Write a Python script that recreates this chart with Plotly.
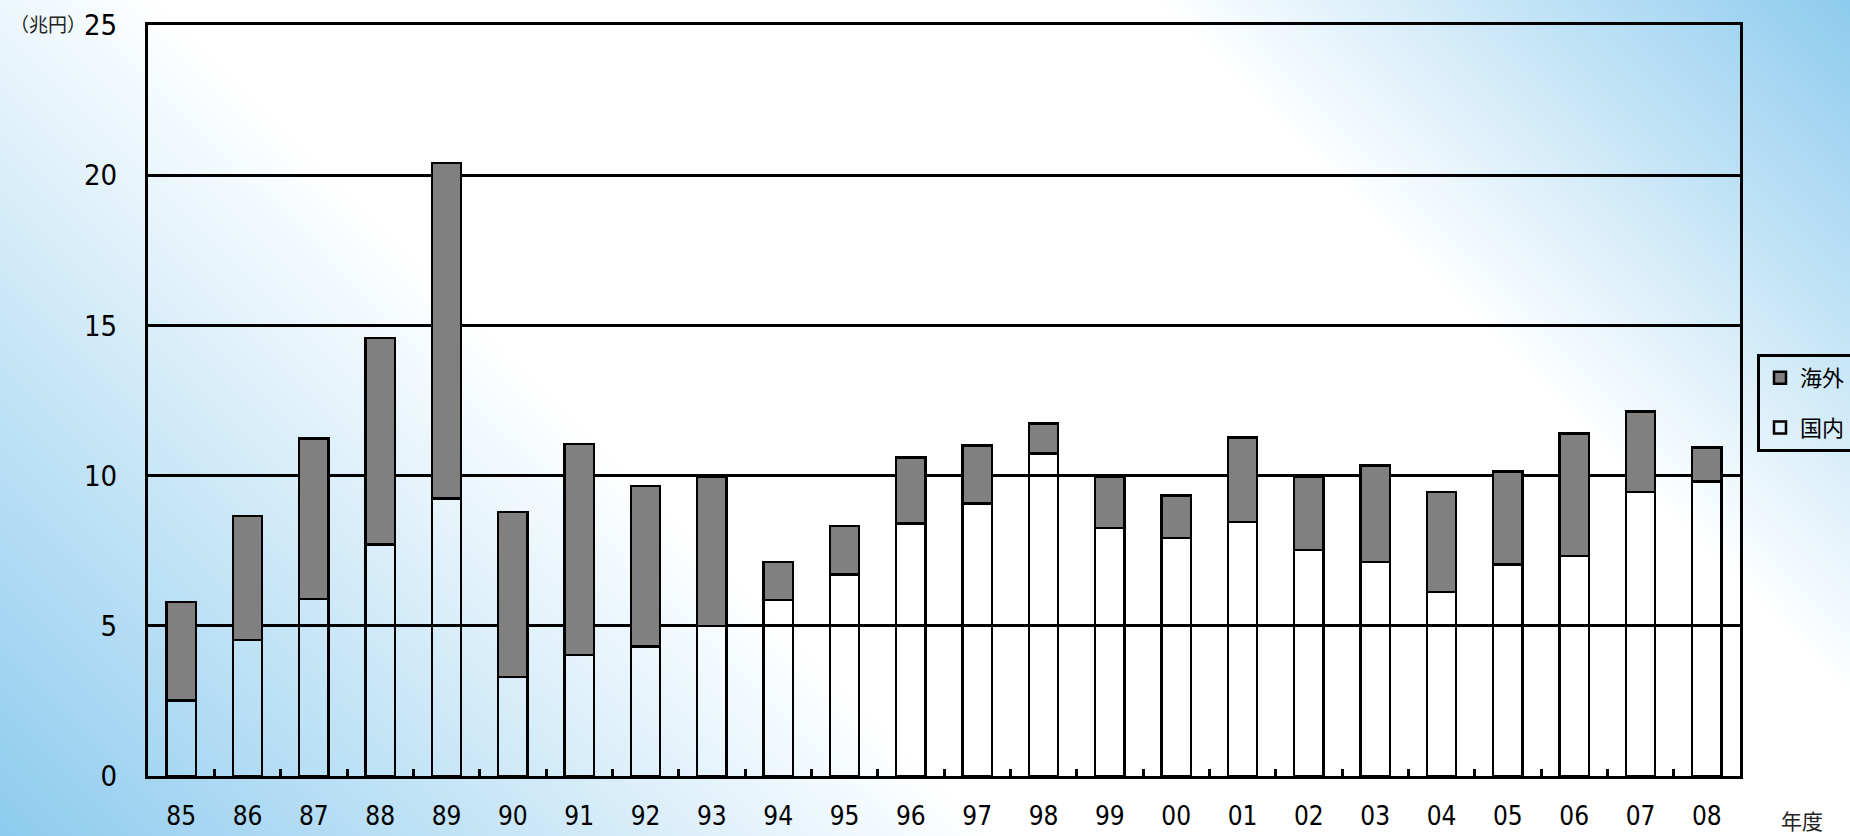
import base64
import plotly.graph_objects as go

# Fiscal years (two-digit labels) and amounts in trillion yen
years = ["85", "86", "87", "88", "89", "90", "91", "92", "93", "94", "95", "96",
         "97", "98", "99", "00", "01", "02", "03", "04", "05", "06", "07", "08"]
domestic = [2.51, 4.52, 5.90, 7.71, 9.24, 3.30, 4.03, 4.31, 5.00, 5.86, 6.71, 8.40,
            9.07, 10.74, 8.26, 7.92, 8.46, 7.52, 7.12, 6.12, 7.04, 7.32, 9.45, 9.81]
overseas = [3.28, 4.13, 5.34, 6.87, 11.17, 5.49, 7.03, 5.34, 4.95, 1.26, 1.62, 2.21,
            1.93, 1.00, 1.71, 1.42, 2.81, 2.45, 3.21, 3.34, 3.09, 4.08, 2.69, 1.13]
y_ticks = [0, 5, 10, 15, 20, 25]

W, H = 1850, 836
ML, MR, MT, MB = 148, 110, 25, 60
PW, PH = W - ML - MR, H - MT - MB

JP_FONT = "Noto Sans CJK JP"
NUM_FONT = "Liberation Sans Narrow, DejaVu Sans Condensed, Noto Sans CJK JP"
BLUE = "#8dcbee"

# 45-degree sky-blue/white gradient used as the page background
gx2 = (W + H) / 2
gy2 = H - (W + H) / 2
svg = (
    f"<svg xmlns='http://www.w3.org/2000/svg' width='{W}' height='{H}' "
    f"viewBox='0 0 {W} {H}' preserveAspectRatio='none'>"
    f"<defs><linearGradient id='g' gradientUnits='userSpaceOnUse' "
    f"x1='0' y1='{H}' x2='{gx2}' y2='{gy2}'>"
    f"<stop offset='0' stop-color='{BLUE}'/>"
    "<stop offset='0.37' stop-color='#ffffff'/>"
    "<stop offset='0.74' stop-color='#ffffff'/>"
    f"<stop offset='1' stop-color='{BLUE}'/>"
    "</linearGradient></defs>"
    f"<rect width='{W}' height='{H}' fill='url(#g)'/></svg>"
)
bg_src = "data:image/svg+xml;base64," + base64.b64encode(svg.encode()).decode()


def px_x(px):
    return (px - ML) / PW


def px_y(py):
    return 1 - (py - MT) / PH


fig = go.Figure()
fig.add_trace(go.Bar(
    x=years, y=domestic, name="国内", legendgroup="d", legendrank=2,
    marker=dict(color="rgba(0,0,0,0)", line=dict(color="black", width=2.5)),
))
fig.add_trace(go.Bar(
    x=years, y=overseas, name="海外", legendgroup="o", legendrank=1,
    marker=dict(color="#808080", line=dict(color="black", width=2.5)),
))

fig.update_layout(
    width=W, height=H,
    margin=dict(l=ML, r=MR, t=MT, b=MB, autoexpand=False),
    paper_bgcolor="white",
    plot_bgcolor="rgba(0,0,0,0)",
    barmode="stack",
    bargap=0.56,
    font=dict(family=JP_FONT, color="black"),
    images=[dict(
        source=bg_src, xref="paper", yref="paper",
        x=px_x(0), y=px_y(0), sizex=W / PW, sizey=H / PH,
        xanchor="left", yanchor="top", sizing="stretch", layer="below",
    )],
    legend=dict(
        x=px_x(1757), y=px_y(403), xanchor="left", yanchor="middle",
        bgcolor="rgba(0,0,0,0)", bordercolor="black", borderwidth=3,
        font=dict(family=JP_FONT, size=22, color="black"),
        traceorder="grouped", tracegroupgap=18,
    ),
    showlegend=True,
    xaxis=dict(
        type="category", showline=True, linecolor="black", linewidth=3, mirror=True,
        ticks="inside", tickson="boundaries", ticklen=7, tickwidth=3, tickcolor="black",
        showgrid=False, tickfont=dict(family=NUM_FONT, size=26, color="black"),
        ticklabelstandoff=15,
    ),
    yaxis=dict(
        range=[0, 25], tickvals=y_ticks, showline=True, linecolor="black", linewidth=3,
        mirror=True, showgrid=True, gridcolor="black", gridwidth=2.5, zeroline=False,
        ticks="", tickfont=dict(family=NUM_FONT, size=29, color="black"),
        ticklabelstandoff=22,
    ),
    annotations=[
        dict(text="（兆円）", xref="paper", yref="paper", x=px_x(8), y=px_y(23),
             xanchor="left", yanchor="middle", showarrow=False,
             font=dict(family=JP_FONT, size=19, color="#222222")),
        dict(text="年度", xref="paper", yref="paper", x=px_x(1779), y=px_y(820),
             xanchor="left", yanchor="middle", showarrow=False,
             font=dict(family=JP_FONT, size=21, color="#222222")),
    ],
)

fig.write_html("out.html")
